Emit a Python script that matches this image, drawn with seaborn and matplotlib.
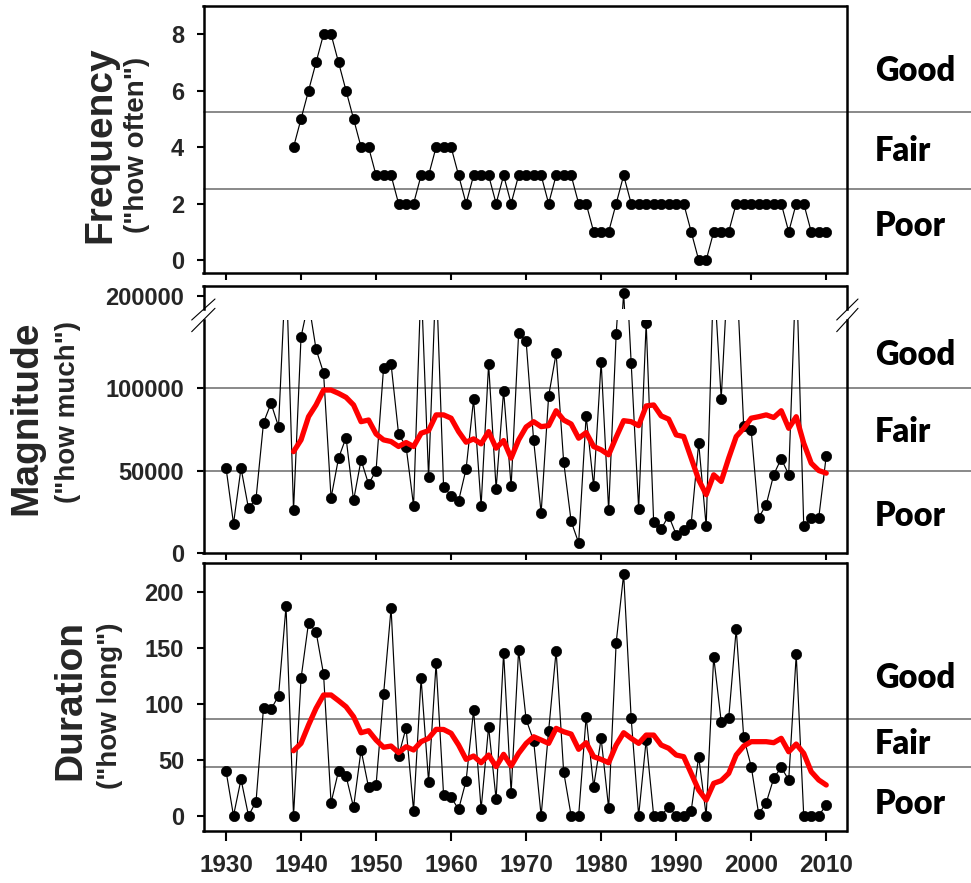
import matplotlib
matplotlib.use('Agg')
import matplotlib.pyplot as plt
from matplotlib import font_manager
from matplotlib.lines import Line2D
import seaborn as sns

sns.set_style('ticks')

installed = {f.name for f in font_manager.fontManager.ttflist}
narrow = 'Liberation Sans Narrow' if 'Liberation Sans Narrow' in installed else 'Liberation Sans'
side_font = 'Lato' if 'Lato' in installed else 'Liberation Sans'
plt.rcParams['font.family'] = ['Liberation Sans', 'DejaVu Sans']

# ---- data ----
freq_years = list(range(1939, 2011))
freq_values = [4, 5, 6, 7, 8, 8, 7, 6, 5, 4, 4,
               3, 3, 3, 2, 2, 2, 3, 3, 4, 4,
               4, 3, 2, 3, 3, 3, 2, 3, 2, 3,
               3, 3, 3, 2, 3, 3, 3, 2, 2, 1,
               1, 1, 2, 3, 2, 2, 2, 2, 2, 2,
               2, 2, 1, 0, 0, 1, 1, 1, 2, 2,
               2, 2, 2, 2, 2, 1, 2, 2, 1, 1, 1]

years = list(range(1930, 2011))
magnitude = [51800, 17900, 51500, 27100, 33000, 78900, 90600, 76500, 175000, 25900,
             130700, 152000, 123300, 109000, 33400, 57500, 69900, 31900, 56400, 41800,
             50000, 112000, 114300, 72100, 64500, 28700, 165000, 45800, 170000, 40000,
             34900, 31700, 51000, 93000, 28700, 114300, 39000, 98200, 40400, 132800,
             128100, 68300, 24300, 95000, 120700, 55400, 19300, 6300, 83100, 40400,
             115700, 25900, 132200, 201800, 115100, 26700, 139200, 18700, 14700, 22700,
             11300, 14300, 17900, 66500, 16300, 170000, 93200, 180000, 175000, 76600,
             74200, 21500, 29400, 47500, 57200, 47500, 175000, 16700, 21400, 21400, 58800]
duration = [40, 0, 32.5, 0, 12.5, 96.4, 95, 107, 187, 0,
            122.6, 172.3, 164.3, 126.5, 11.6, 40, 35.4, 7.5, 58.7, 25.4,
            27.4, 108.4, 185.2, 53.3, 78.6, 4.5, 122.6, 30.4, 136, 18.5,
            16.4, 5.7, 31.3, 94.4, 5.7, 79.5, 14.6, 145.5, 20.5, 148,
            86, 67, 0, 75.9, 147.3, 39.3, 0, 0, 88.4, 25.9,
            69, 6.6, 154.5, 215.8, 87, 0, 67.6, 0, 0, 8,
            0, 0, 4.5, 52.7, 0, 142, 84, 87, 166.7, 70,
            43.8, 1.5, 11.6, 33.4, 43.2, 31.9, 144, 0, 0, 0, 9.6]

avg_years = list(range(1939, 2011))
magnitude_avg = [61400, 68500, 82500, 89600, 98600, 98600, 96600, 94200, 89600, 79500, 80500,
                 72100, 68500, 67500, 64500, 66900, 64500, 72500, 74100, 83600, 83600,
                 81600, 73500, 67100, 69100, 66100, 73500, 63500, 68100, 57500, 68500,
                 76300, 79500, 76500, 77100, 86100, 80500, 78100, 69500, 72900, 64500,
                 62500, 59500, 70100, 80100, 79500, 77100, 89000, 89600, 83000, 81000,
                 71500, 70500, 57500, 44400, 35400, 47400, 43400, 57500, 70500, 75500,
                 81600, 82500, 83600, 82000, 86100, 75500, 82500, 66500, 54400, 50000, 48400]
duration_avg = [58, 64.6, 81, 95.9, 107.8, 107.8, 102.7, 97.3, 88.4, 74.1, 75.9,
                67.6, 61.1, 62.2, 56.3, 61.6, 58.7, 66.1, 69.1, 77.1, 77,
                73.6, 63.1, 50.3, 53.3, 47.3, 54.2, 43.8, 54.8, 44.4, 55.7,
                64.5, 70.5, 67.6, 64.6, 78, 75, 72.9, 59.3, 65.2, 52.7,
                50.3, 47.3, 63.1, 74.1, 69.1, 64.6, 72, 72, 63.1, 60.2,
                54.2, 52.7, 37.8, 22.9, 14, 28.9, 31.3, 37.8, 54.2, 62.2,
                66.1, 66.1, 66.1, 65.2, 69.1, 57.1, 64, 55.7, 39.3, 31.9, 27.4]

freq_limits = [5.25, 2.5]
mag_limits = [100000, 50000]
dur_limits = [86.5, 43.3]
classes = ['Good', 'Fair', 'Poor']

# ---- layout (pixels) ----
W, H = 971, 883
LEFT, RIGHT = 203.5, 846.5


def box(top, bottom):
    return [LEFT / W, 1 - bottom / H, (RIGHT - LEFT) / W, (bottom - top) / H]


fig = plt.figure(figsize=(W / 100, H / 100), dpi=100)
ax_f = fig.add_axes(box(6, 273.3))
ax_mt = fig.add_axes(box(285.7, 309))
ax_mb = fig.add_axes(box(320, 553.3))
ax_d = fig.add_axes(box(563.3, 830.7))
axes = [ax_f, ax_mt, ax_mb, ax_d]

dot = dict(color='black', linewidth=0.85, marker='o', markersize=7.4,
           markeredgewidth=0.5, markeredgecolor='black', zorder=3, legend=False)
avg = dict(color='red', linewidth=3.8, zorder=4, legend=False)

sns.lineplot(x=freq_years, y=freq_values, ax=ax_f, **dot)
for a in (ax_mt, ax_mb):
    sns.lineplot(x=years, y=magnitude, ax=a, **dot)
    sns.lineplot(x=avg_years, y=magnitude_avg, ax=a, **avg)
sns.lineplot(x=years, y=duration, ax=ax_d, **dot)
sns.lineplot(x=avg_years, y=duration_avg, ax=ax_d, **avg)

# threshold lines run past the right edge of the plots
ext = (W - LEFT) / (RIGHT - LEFT)
for a, lims in ((ax_f, freq_limits), (ax_mb, mag_limits), (ax_d, dur_limits)):
    for v in lims:
        a.axhline(v, xmin=0, xmax=ext, color='#808080', lw=1.3, clip_on=False, zorder=1)

ax_f.set_ylim(-0.47, 9.0)
ax_f.set_yticks([0, 2, 4, 6, 8])
ax_mt.set_ylim(192000, 206000)
ax_mt.set_yticks([200000])
ax_mb.set_ylim(0, 140900)
ax_mb.set_yticks([0, 50000, 100000])
ax_d.set_ylim(-13.4, 225.4)
ax_d.set_yticks([0, 50, 100, 150, 200])

for a in axes:
    a.set_xlim(1927.0, 2012.7)
    a.set_xticks(range(1930, 2011, 10))
    a.set_xlabel('')
    a.set_ylabel('')
    for s in a.spines.values():
        s.set_linewidth(1.8)
        s.set_color('black')
    a.tick_params(direction='out', length=5, width=1.5, color='black', pad=9)
    for t in a.get_yticklabels():
        t.set_fontsize(17)
        t.set_fontweight('bold')
    if a is not ax_d:
        a.tick_params(axis='x', labelbottom=False)

ax_mt.spines['bottom'].set_visible(False)
ax_mt.tick_params(axis='x', bottom=False)
ax_mb.spines['top'].set_visible(False)

for t in ax_d.get_xticklabels():
    t.set_fontsize(17.5)
    t.set_fontweight('bold')
    t.set_family(narrow)
ax_d.tick_params(axis='x', length=7, pad=10)

# axis break marks
for x1, x2 in ((191.7, 215), (836.7, 858)):
    for y1, y2 in ((320, 299), (331.7, 308.3)):
        fig.add_artist(Line2D([x1 / W, x2 / W], [1 - y1 / H, 1 - y2 / H],
                              color='black', lw=0.8))

# left titles
titles = [('Frequency', '("how often")', (100, 145), (137, 145)),
          ('Magnitude', '("how much")', (26, 418), (68, 412)),
          ('Duration', '("how long")', (70, 700), (110, 706))]
for main, sub, (x1, y1), (x2, y2) in titles:
    fig.text(x1 / W, 1 - y1 / H, main, rotation=90, ha='center', va='center',
             fontsize=28, fontweight='bold', family=narrow)
    fig.text(x2 / W, 1 - y2 / H, sub, rotation=90, ha='center', va='center',
             fontsize=20, fontweight='bold', family=narrow)

# right class labels
side_y = [(71, 151, 226), (355, 432, 516), (678, 744, 804)]
for ys in side_y:
    for name, y in zip(classes, ys):
        fig.text(875 / W, 1 - y / H, name, ha='left', va='center', color='black',
                 fontsize=23.5, fontweight='heavy', family=side_font)

fig.savefig('out.png', dpi=100, facecolor='white')
